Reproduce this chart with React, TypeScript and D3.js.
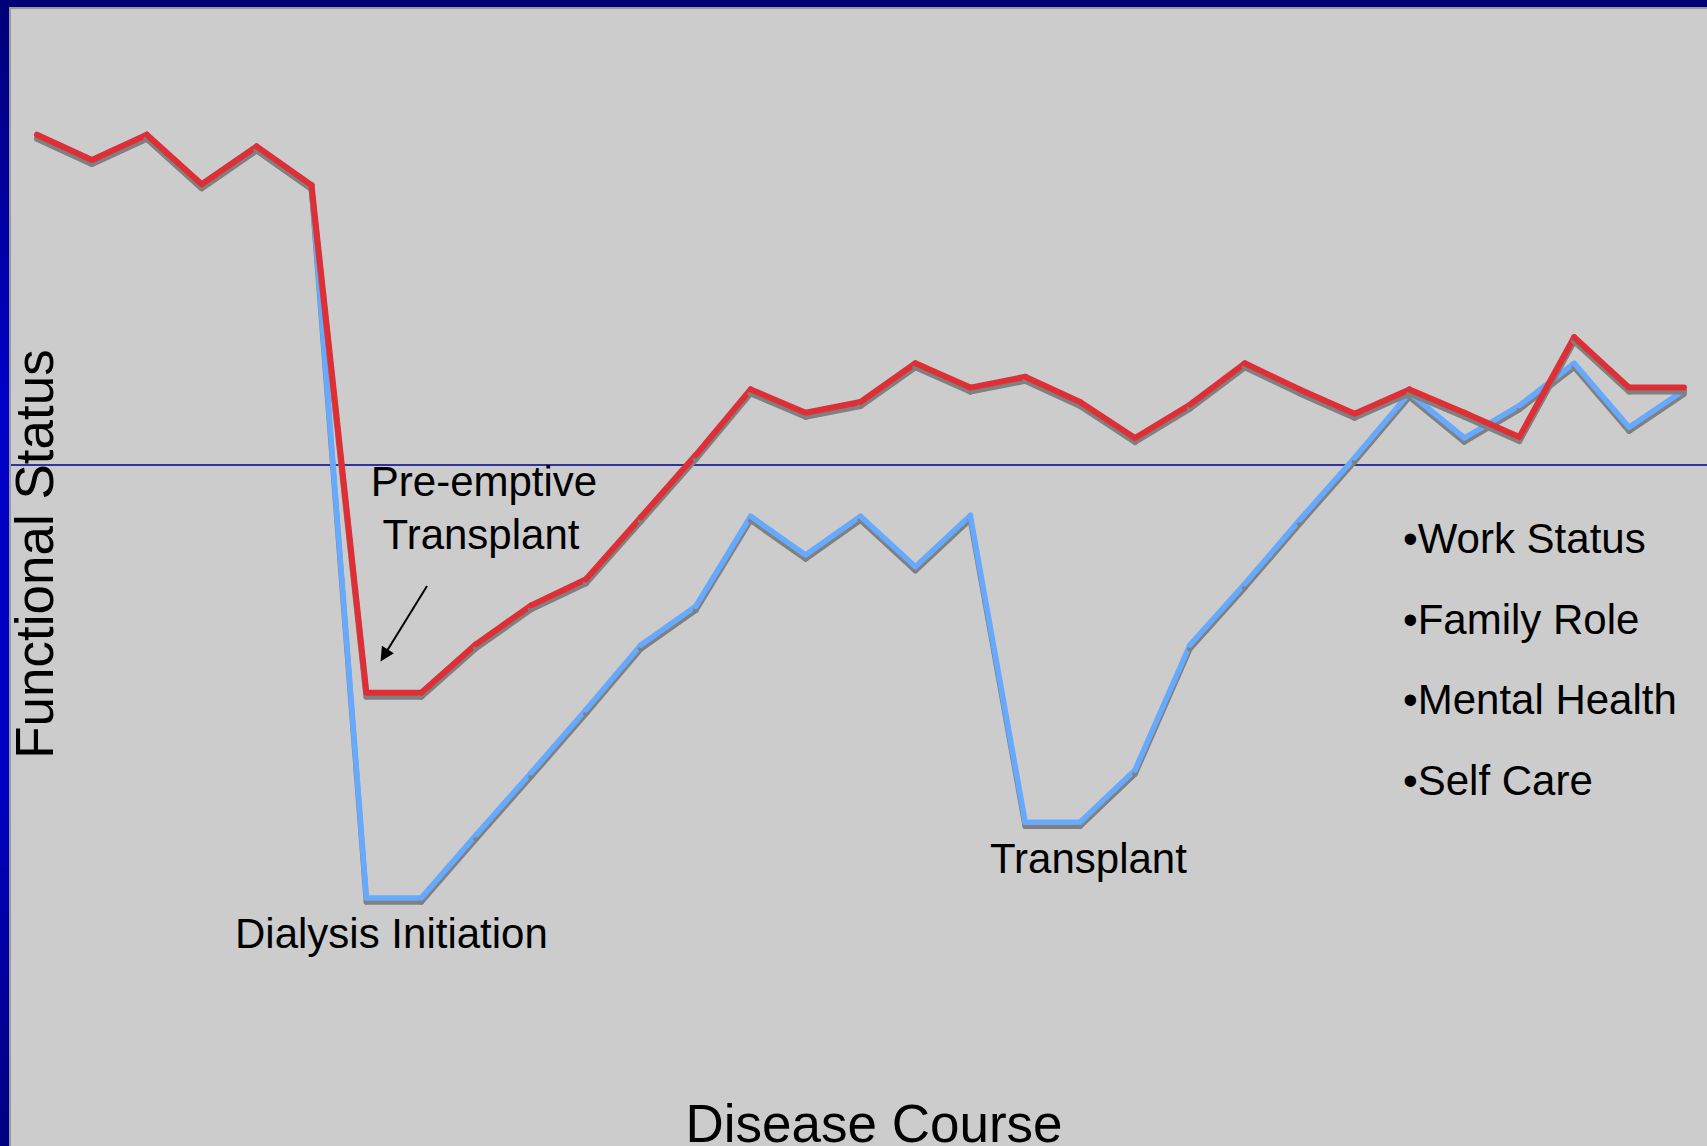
import { useEffect, useRef } from 'react'
import * as d3 from 'd3'

// points along the disease course, evenly spaced
const steps = d3.range(31)

// functional status, pre-emptive transplant pathway (red)
const preemptive = [
  96.7, 93.9, 96.7, 91.2, 95.4, 91.1, 34.7, 34.7, 40.1, 44.4, 47.3,
  54.2, 61.1, 68.4, 65.8, 67.0, 71.3, 68.6, 69.8, 67.0, 63.0, 66.7,
  71.3, 68.4, 65.7, 68.4, 65.8, 63.1, 74.2, 68.6, 68.6,
]

// functional status, dialysis then transplant pathway (blue)
const dialysis = [
  96.7, 93.9, 96.7, 91.2, 95.4, 91.1, 11.9, 11.9, 18.9, 25.8, 32.8,
  40.0, 44.3, 54.3, 50.0, 54.3, 48.7, 54.4, 20.3, 20.3, 26.1, 40.0,
  46.8, 53.9, 60.8, 68.0, 63.0, 66.6, 71.3, 64.2, 68.3,
]

const referenceLevel = 60
const domains = ['•Work Status', '•Family Role', '•Mental Health', '•Self Care']

const W = 1707
const H = 1146
const FONT = '"Liberation Sans", Arial, sans-serif'

export default function App() {
  const svgRef = useRef<SVGSVGElement>(null)

  useEffect(() => {
    if (!svgRef.current) return
    document.body.style.margin = '0'

    const svg = d3.select(svgRef.current)
    svg.selectAll('*').remove()

    const xScale = d3.scaleLinear().domain([0, 30]).range([37, 1684])
    const yScale = d3.scaleLinear().domain([0, 100]).range([1005, 105])

    // frame
    const defs = svg.append('defs')
    const grad = defs.append('linearGradient')
      .attr('id', 'sideGrad')
      .attr('x1', 0).attr('y1', 0).attr('x2', 0).attr('y2', 1)
    grad.append('stop').attr('offset', '0%').attr('stop-color', '#000078')
    grad.append('stop').attr('offset', '35%').attr('stop-color', '#0000c8')
    grad.append('stop').attr('offset', '70%').attr('stop-color', '#0000c0')
    grad.append('stop').attr('offset', '100%').attr('stop-color', '#000080')

    defs.append('marker')
      .attr('id', 'arrowHead')
      .attr('viewBox', '0 0 10 10')
      .attr('refX', 8).attr('refY', 5)
      .attr('markerWidth', 9).attr('markerHeight', 7)
      .attr('markerUnits', 'strokeWidth')
      .attr('orient', 'auto')
      .append('path')
      .attr('d', 'M0,0 L10,5 L0,10 z')
      .attr('fill', '#000')

    svg.append('rect').attr('width', W).attr('height', H).attr('fill', '#cccccc')
    svg.append('rect').attr('x', 0).attr('y', 0).attr('width', W).attr('height', 7).attr('fill', '#000078')
    svg.append('rect').attr('x', 0).attr('y', 7).attr('width', W).attr('height', 2).attr('fill', '#9a9a9a')
    svg.append('rect').attr('x', 0).attr('y', 0).attr('width', 9).attr('height', H).attr('fill', 'url(#sideGrad)')
    svg.append('rect').attr('x', 9).attr('y', 7).attr('width', 2).attr('height', H).attr('fill', '#9a9a9a')

    // reference line
    svg.append('line')
      .attr('x1', 11).attr('x2', W)
      .attr('y1', yScale(referenceLevel)).attr('y2', yScale(referenceLevel))
      .attr('stroke', '#00008c')
      .attr('stroke-width', 1.3)

    // each segment drawn with its own drop shadow
    const drawSeries = (values: number[], color: string, width: number) => {
      const pts = steps.map(i => [xScale(i), yScale(values[i])] as [number, number])
      const g = svg.append('g')
      d3.pairs(pts).forEach(([a, b]) => {
        g.append('line')
          .attr('x1', a[0]).attr('y1', a[1] + 4)
          .attr('x2', b[0]).attr('y2', b[1] + 4)
          .attr('stroke', '#808080')
          .attr('stroke-width', width)
          .attr('stroke-linecap', 'round')
        g.append('line')
          .attr('x1', a[0]).attr('y1', a[1])
          .attr('x2', b[0]).attr('y2', b[1])
          .attr('stroke', color)
          .attr('stroke-width', width)
          .attr('stroke-linecap', 'round')
      })
    }

    drawSeries(dialysis, '#66aaff', 5.5)
    drawSeries(preemptive, '#df2f36', 6)

    // annotations
    const label = (txt: string, x: number, y: number, size: number, anchor = 'start') =>
      svg.append('text')
        .attr('x', x).attr('y', y)
        .attr('font-family', FONT)
        .attr('font-size', size)
        .attr('text-anchor', anchor)
        .attr('fill', '#000')
        .text(txt)

    label('Pre-emptive', 484, 496, 42, 'middle')
    label('Transplant', 481, 549, 42, 'middle')
    label('Dialysis Initiation', 235, 948, 42)
    label('Transplant', 990, 873, 42)

    svg.append('line')
      .attr('x1', 427).attr('y1', 586)
      .attr('x2', 382).attr('y2', 659)
      .attr('stroke', '#000')
      .attr('stroke-width', 2)
      .attr('marker-end', 'url(#arrowHead)')

    domains.forEach((d, i) => {
      label(d, 1403, 553 + i * 80.5, 42)
    })

    // axis titles
    label('Disease Course', 874, 1142, 53, 'middle')
    svg.append('text')
      .attr('transform', `translate(53, 554) rotate(-90)`)
      .attr('font-family', FONT)
      .attr('font-size', 53)
      .attr('text-anchor', 'middle')
      .attr('fill', '#000')
      .text('Functional Status')
  }, [])

  return (
    <svg
      ref={svgRef}
      width={W}
      height={H}
      style={{ position: 'absolute', left: 0, top: 0, display: 'block' }}
    />
  )
}
